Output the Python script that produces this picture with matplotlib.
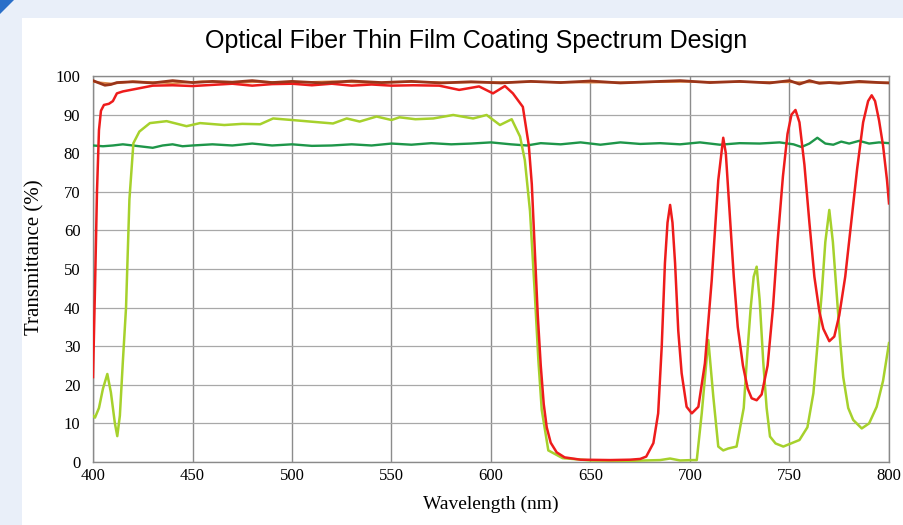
import matplotlib
matplotlib.use("Agg")
import matplotlib.pyplot as plt
from matplotlib.patches import Rectangle, Polygon

# 各曲线数据
red_wl = [400, 401, 402, 403, 404, 405.5, 408, 410, 412, 415, 420, 425, 430, 440, 450, 460,
          470, 480, 490, 500, 510, 520, 530, 540, 550, 561, 574, 584, 594, 601, 607, 611,
          616, 619, 620.5, 622, 623.5, 625, 626.5, 628, 630, 633, 637, 645, 660, 670, 675,
          678, 681.6, 684, 685.8, 687.4, 688.7, 690, 691.2, 692.5, 694.1, 695.8, 698.3, 700.9,
          704.2, 707.5, 710.9, 714.2, 716.7, 718, 720, 722, 724, 726.6, 729, 731,
          733.5, 736, 739, 741.7, 744, 746.7, 749, 751, 753, 755, 757.5, 760, 762.5, 765,
          767, 770, 772.5, 775, 778, 781, 784, 787, 789.5, 791.3, 793, 795, 797, 799, 800]
red_t = [22, 45, 70, 86, 91, 92.5, 92.8, 93.5, 95.5, 96, 96.5, 97, 97.5, 97.6, 97.4, 97.7,
         98, 97.5, 97.9, 98, 97.6, 98, 97.5, 97.8, 97.5, 97.6, 97.5, 96.4, 97.3, 95.5, 97.4, 95.5,
         92, 82, 72, 55, 38, 25, 15, 9, 5, 2.5, 1.2, 0.6, 0.5, 0.6, 0.8,
         1.4, 4.9, 12.6, 30, 51.5, 62, 66.6, 62, 51.5, 34, 23, 14.3, 12.6,
         14.3, 25.6, 47, 73, 84, 80, 64, 48, 35, 25, 19, 16.5,
         16, 17.5, 25, 40, 57, 74, 85, 90, 91.2, 88, 77, 62, 48, 39,
         34.5, 31.3, 32.5, 38, 48, 62, 76, 88, 93.5, 95, 93.5, 88.5, 82, 73, 67]

lime_wl = [400, 401, 403, 405, 407.2, 409, 411, 412.2, 413.5, 415, 416.6, 418.3, 420.3, 423.3,
           428.6, 437, 447, 453.8, 466, 475, 484, 490.5, 500, 509, 520.6, 527.5, 534, 542.5,
           550, 554, 562, 571, 581, 591, 597.8, 604.5, 610.4, 614.6, 617, 619.6, 622, 623.8,
           625.5, 628.8, 636, 650, 670, 685, 690, 695, 701.5, 703.4, 705.9, 709.2,
           711.7, 714.2, 716.7, 719.2, 723.4, 727, 728.5, 730.5, 732, 733.5, 735, 736.8,
           738.5, 740.2, 743, 746.9, 755, 759, 762, 764, 766.2, 768, 770, 771.8, 773.7, 775.5,
           777, 779.5, 782, 786.3, 790, 793.8, 797, 800]
lime_t = [12, 11.5, 14, 19, 22.8, 18, 10, 6.7, 12, 26, 40, 68, 82.6, 85.6,
          87.8, 88.3, 87, 87.8, 87.3, 87.6, 87.5, 89, 88.6, 88.2, 87.7, 89, 88.2, 89.5,
          88.6, 89.3, 88.8, 89, 89.9, 89, 89.9, 87.3, 88.8, 84.3, 78.2, 65, 43.7, 26.4,
          13.5, 3, 1, 0.4, 0.3, 0.5, 0.9, 0.4, 0.5, 0.5, 12.6, 31.6,
          17, 4, 3, 3.5, 4, 14, 26, 40, 48, 50.6, 42, 26,
          14, 6.6, 4.8, 4, 5.7, 9, 17.8, 30, 43.7, 57, 65.3, 57, 43.7, 31,
          22, 14, 10.9, 8.7, 10, 14.3, 21, 30.8]

green_wl = [400, 405, 410, 415, 420, 425, 430, 435, 440, 445, 450, 460, 470, 480, 490, 500,
            510, 520, 530, 540, 550, 560, 570, 580, 590, 600, 610, 618, 625, 635, 645, 655,
            665, 675, 685, 695, 705, 715, 725, 735, 745, 752, 756, 760, 764, 768, 772, 776,
            780, 785, 790, 795, 800]
green_t = [82, 81.8, 82, 82.3, 82, 81.7, 81.4, 82, 82.3, 81.8, 82, 82.3, 82, 82.5, 82, 82.3,
           81.9, 82, 82.3, 82, 82.5, 82.2, 82.6, 82.3, 82.5, 82.8, 82.3, 82, 82.6, 82.3, 82.8, 82.2,
           82.8, 82.4, 82.6, 82.3, 82.8, 82.2, 82.6, 82.5, 82.8, 82.3, 81.6, 82.5, 84, 82.5, 82.2, 83,
           82.5, 83.2, 82.5, 82.8, 82.6]

brown_wl = [400, 403, 406, 409, 412, 420, 430, 440, 450, 460, 470, 480, 490, 500, 515, 530,
            545, 560, 575, 590, 605, 620, 635, 650, 665, 680, 695, 710, 725, 740, 750, 755,
            760, 765, 770, 775, 785, 795, 800]
brown_t = [98.8, 98.2, 97.6, 97.8, 98.3, 98.5, 98.2, 98.8, 98.3, 98.6, 98.4, 98.8, 98.3, 98.6,
           98.2, 98.7, 98.3, 98.6, 98.2, 98.5, 98.2, 98.6, 98.3, 98.7, 98.2, 98.5, 98.8, 98.3,
           98.6, 98.2, 98.8, 97.9, 98.8, 98.1, 98.3, 98.1, 98.6, 98.3, 98.2]

tan_wl = [400, 410, 420, 430, 440, 455, 470, 485, 500, 520, 540, 560, 580, 600, 620, 650,
          700, 750, 800]
tan_t = [98.5, 98.0, 98.6, 98.4, 98.1, 98.6, 98.2, 98.5, 98.3, 98.6, 98.2, 98.5, 98.3, 98.4,
         98.5, 98.3, 98.5, 98.4, 98.3]

x_ticks = [400, 450, 500, 550, 600, 650, 700, 750, 800]
y_ticks = [0, 10, 20, 30, 40, 50, 60, 70, 80, 90, 100]

fig = plt.figure(figsize=(9.04, 5.25), dpi=100)
fig.patch.set_facecolor("#e9eff9")
# 白色主背景
fig.add_artist(Rectangle((22 / 904, 0), 1, 1 - 18 / 525, transform=fig.transFigure,
                         facecolor="white", edgecolor="none", zorder=0))
fig.add_artist(Polygon([(0, 1), (14 / 904, 1), (0, 1 - 14 / 525)], closed=True,
                       transform=fig.transFigure, facecolor="#2a6fc9", edgecolor="none", zorder=1))

ax = fig.add_axes([93 / 904, 1 - 462 / 525, 796 / 904, 386 / 525])
ax.set_facecolor("white")

ax.plot(tan_wl, tan_t, color="#e08a4a", lw=1.4, zorder=3)
ax.plot(brown_wl, brown_t, color="#9a3519", lw=2.0, zorder=4)
ax.plot(green_wl, green_t, color="#1e9649", lw=1.7, zorder=3)
ax.plot(lime_wl, lime_t, color="#a6d12c", lw=1.8, zorder=3)
ax.plot(red_wl, red_t, color="#ee1c1c", lw=1.8, zorder=3)

ax.set_xlim(400, 800)
ax.set_ylim(0, 100)
ax.set_xticks(x_ticks)
ax.set_yticks(y_ticks)
ax.grid(axis="x", color="#8c8c8c", lw=1.0)
ax.grid(axis="y", color="#a8a8a8", lw=0.9)
ax.set_axisbelow(True)
for s in ax.spines.values():
    s.set_color("#8a8a8a")
    s.set_linewidth(1.0)
ax.tick_params(length=0, labelsize=12)
ax.tick_params(axis="y", pad=9)
ax.tick_params(axis="x", pad=4)
for lab in ax.get_xticklabels() + ax.get_yticklabels():
    lab.set_fontfamily("Liberation Serif")

ax.set_xlabel("Wavelength (nm)", fontfamily="Liberation Serif", fontsize=14, labelpad=9)
ax.set_ylabel("Transmittance (%)", fontfamily="Liberation Serif", fontsize=15)
ax.yaxis.set_label_coords(-0.061, 0.53)
fig.text(0.527, 1 - 41 / 525, "Optical Fiber Thin Film Coating Spectrum Design",
         ha="center", va="center", fontfamily="Liberation Sans", fontsize=18)

fig.savefig("out.png", dpi=100, facecolor=fig.get_facecolor())
